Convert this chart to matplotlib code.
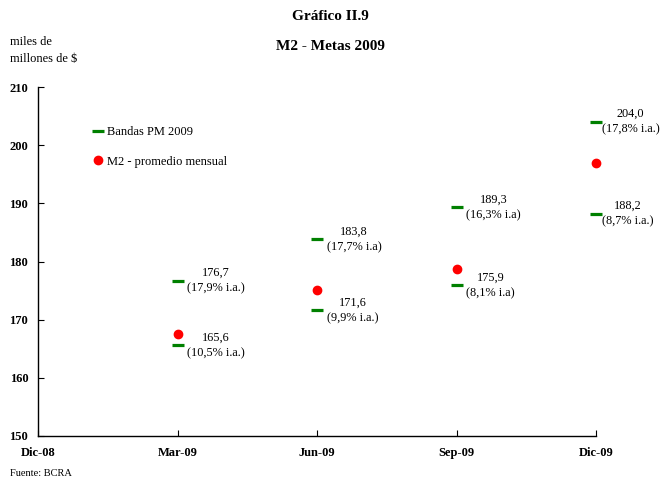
import matplotlib
matplotlib.use("Agg")
import matplotlib.pyplot as plt

plt.rcParams['font.family'] = ['Liberation Serif', 'DejaVu Serif']

# months from Dic-08
tick_pos = [0, 3, 6, 9, 12]
tick_labels = ["Dic-08", "Mar-09", "Jun-09", "Sep-09", "Dic-09"]

band_x = [3, 6, 9, 12]
band_upper = [176.7, 183.8, 189.3, 204.0]
band_lower = [165.6, 171.6, 175.9, 188.2]
upper_txt = ["176,7\n(17,9% i.a.)", "183,8\n(17,7% i.a)", "189,3\n(16,3% i.a)", "204,0\n(17,8% i.a.)"]
lower_txt = ["165,6\n(10,5% i.a.)", "171,6\n(9,9% i.a.)", "175,9\n(8,1% i.a)", "188,2\n(8,7% i.a.)"]

m2_x = [3, 6, 9, 12]
m2_avg = [167.5, 175.1, 178.7, 196.9]

fig = plt.figure(figsize=(6.61, 4.79), dpi=100)
ax = fig.add_axes([38/661, 1-436/479, (596-38)/661, (436-87)/479])

green = "#008000"
ax.plot(band_x, band_upper, ls="none", marker="_", ms=9, mew=2.3, color=green,
        clip_on=False, label="Bandas PM 2009")
ax.plot(band_x, band_lower, ls="none", marker="_", ms=9, mew=2.3, color=green, clip_on=False)
ax.plot(m2_x, m2_avg, ls="none", marker="o", ms=6, color="#ff0000", mec="#ff0000",
        clip_on=False, label="M2 - promedio mensual")

# value labels next to each band mark (last column pulled in a bit so it fits)
for x, y1, y2, t1, t2 in zip(band_x, band_upper, band_lower, upper_txt, lower_txt):
    dx = 4 if x == 12 else 7
    for y, t in [(y1, t1), (y2, t2)]:
        ax.annotate(t, (x, y), xytext=(dx, 0), textcoords="offset points", ha="left", va="center",
                    multialignment="center", fontsize=8.8, linespacing=1.38, annotation_clip=False)

ax.set_xlim(0, 12)
ax.set_ylim(150, 210)
ax.set_xticks(tick_pos)
ax.set_xticklabels(tick_labels, fontweight="bold", fontsize=9)
ax.set_yticks(range(150, 211, 10))
ax.set_yticklabels([str(v) for v in range(150, 211, 10)], fontweight="bold", fontsize=9)
ax.tick_params(axis="both", direction="in", length=4, width=0.8)
ax.tick_params(axis="y", pad=7)
ax.tick_params(axis="x", pad=8)
for s in ["top", "right"]:
    ax.spines[s].set_visible(False)
for s in ["left", "bottom"]:
    ax.spines[s].set_linewidth(1.0)

ax.legend(loc="upper left", bbox_to_anchor=(93/661, 1-126/479), bbox_transform=fig.transFigure,
          frameon=False, fontsize=9, handlelength=0.8, handletextpad=0.3, labelspacing=1.4,
          borderaxespad=0, borderpad=0)

fig.text(330/661, 1-16/479, "Gráfico II.9", ha="center", va="center", fontsize=11, fontweight="bold")
fig.text(330/661, 1-46/479, "M2 - Metas 2009", ha="center", va="center", fontsize=11, fontweight="bold")
fig.text(10/661, 1-42/479, "miles de", ha="left", va="center", fontsize=9)
fig.text(10/661, 1-59/479, "millones de $", ha="left", va="center", fontsize=9)
fig.text(10/661, 1-474/479, "Fuente: BCRA", ha="left", va="center", fontsize=7.5)

fig.savefig("out.png", dpi=100)
